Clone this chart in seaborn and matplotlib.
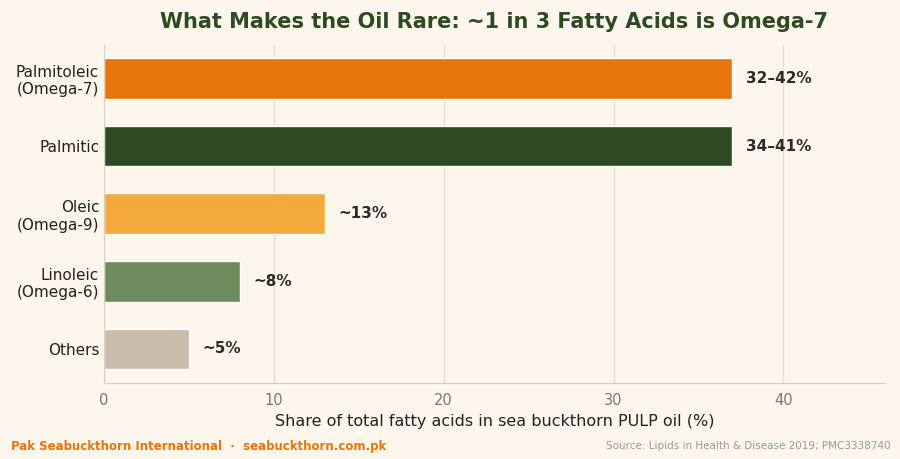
import matplotlib
matplotlib.use("Agg")
import matplotlib.pyplot as plt
import seaborn as sns
import pandas as pd

categories = ["Palmitoleic\n(Omega-7)", "Palmitic", "Oleic\n(Omega-9)", "Linoleic\n(Omega-6)", "Others"]
values = [37, 37, 13, 8, 5]
labels = ["32–42%", "34–41%", "~13%", "~8%", "~5%"]
colors = ["#e8740c", "#2d4a22", "#f4a93c", "#6e8b5e", "#c9bcaa"]

bg = "#fdf6ec"
sns.set_style("white")
plt.rcParams['font.family'] = ['DejaVu Sans']
fig = plt.figure(figsize=(9, 4.59), dpi=100, facecolor=bg)
ax = fig.add_axes([0.1156, 0.166, 0.868, 0.737], facecolor=bg)
df = pd.DataFrame({"cat": categories, "val": values})
sns.barplot(data=df, x="val", y="cat", hue="cat", palette=colors, legend=False, ax=ax, width=0.6, saturation=1)
for i, (v, l) in enumerate(zip(values, labels)):
    ax.text(v + 0.8, i, l, va="center", ha="left", fontsize=11, fontweight="bold", color="#2b2b2b")
ax.set_xlim(0, 46)
ax.set_xticks([0, 10, 20, 30, 40])
ax.grid(axis="x", color="#e6ddd0", lw=1)
ax.set_axisbelow(True)
for s in ["top", "right"]:
    ax.spines[s].set_visible(False)
for s in ["left", "bottom"]:
    ax.spines[s].set_color("#d8cfc2")
ax.tick_params(axis="x", colors="#777777", labelsize=10.5, length=4)
ax.tick_params(axis="y", labelsize=11, length=0, labelcolor="#222222")
ax.set_ylabel("")
ax.set_xlabel("Share of total fatty acids in sea buckthorn PULP oil (%)", fontsize=11.5, color="#222222")
fig.text(0.549, 0.952, "What Makes the Oil Rare: ~1 in 3 Fatty Acids is Omega-7", ha="center", va="center",
         fontsize=15, fontweight="bold", color="#2d4a22")
fig.text(0.012, 0.028, "Pak Seabuckthorn International  ·  seabuckthorn.com.pk", fontsize=8.5,
         fontweight="bold", color="#e8740c", va="center")
fig.text(0.99, 0.028, "Source: Lipids in Health & Disease 2019; PMC3338740", fontsize=7.5,
         color="#999999", ha="right", va="center")
fig.savefig("out.png", facecolor=bg)
